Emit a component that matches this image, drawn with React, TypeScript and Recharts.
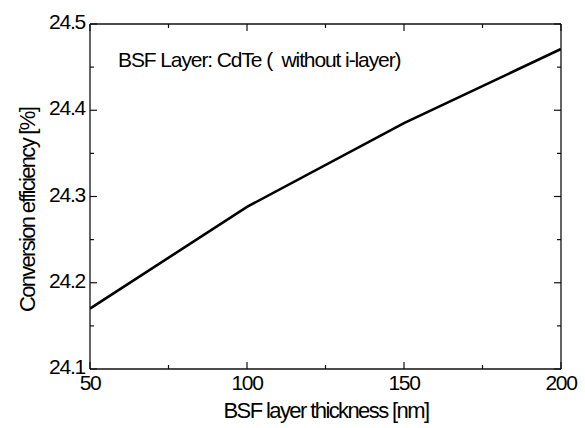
import { LineChart, Line, XAxis, YAxis, Customized } from 'recharts';

const thickness = [50, 100, 150, 200];
const efficiency = [24.17, 24.288, 24.385, 24.471];

const xTicks = [50, 75, 100, 125, 150, 175, 200];
const xLabels = [50, 100, 150, 200];
const yTicks = [24.1, 24.15, 24.2, 24.25, 24.3, 24.35, 24.4, 24.45, 24.5];
const yLabels = [24.1, 24.2, 24.3, 24.4, 24.5];

const data = thickness.map((t, i) => ({ thickness: t, efficiency: efficiency[i] }));

const font = '"Liberation Sans", Arial, sans-serif';
const axisLine = { stroke: '#111', strokeWidth: 1.3 };
const isMajor = (list: number[], v: number) => list.some(m => Math.abs(m - v) < 1e-6);

function BottomTick({ x, y, payload }: any) {
  const major = isMajor(xLabels, payload.value);
  return (
    <g>
      <line x1={x} y1={y} x2={x} y2={y - (major ? 7 : 4)} stroke="#111" strokeWidth={1.2} />
      {major && (
        <text x={x} y={y + 21} textAnchor="middle" fill="#000" fontSize={21} letterSpacing={-1.4} fontFamily={font}>
          {payload.value}
        </text>
      )}
    </g>
  );
}

function TopTick({ x, y, payload }: any) {
  const major = isMajor(xLabels, payload.value);
  return <line x1={x} y1={y} x2={x} y2={y + (major ? 7 : 4)} stroke="#111" strokeWidth={1.2} />;
}

function LeftTick({ x, y, payload }: any) {
  const major = isMajor(yLabels, payload.value);
  return (
    <g>
      <line x1={x} y1={y} x2={x + (major ? 7 : 4)} y2={y} stroke="#111" strokeWidth={1.2} />
      {major && (
        <text x={x - 5} y={y + 5} textAnchor="end" fill="#000" fontSize={21} letterSpacing={-1.2} fontFamily={font}>
          {payload.value.toFixed(1)}
        </text>
      )}
    </g>
  );
}

function RightTick({ x, y, payload }: any) {
  const major = isMajor(yLabels, payload.value);
  return <line x1={x} y1={y} x2={x - (major ? 7 : 4)} y2={y} stroke="#111" strokeWidth={1.2} />;
}

function Titles() {
  return (
    <g fontFamily={font} fill="#000">
      <text x={118} y={67} fontSize={21} letterSpacing={-1.1} xmlSpace="preserve" style={{ whiteSpace: 'pre' }}>
        {'BSF Layer: CdTe (  without i-layer)'}
      </text>
      <text x={326} y={418} fontSize={22} letterSpacing={-1.6} textAnchor="middle">
        BSF layer thickness [nm]
      </text>
      <text x={35} y={210} fontSize={22} letterSpacing={-1.7} textAnchor="middle" transform="rotate(-90, 35, 210)">
        Conversion efficiency [%]
      </text>
    </g>
  );
}

export default function App() {
  return (
    <div style={{ position: 'absolute', left: 0, top: 0, width: 585, height: 428, background: '#fff' }}>
      <LineChart width={585} height={428} data={data} margin={{ top: 23, right: 23, bottom: 58, left: 89 }}>
        <XAxis
          xAxisId="b"
          dataKey="thickness"
          type="number"
          orientation="bottom"
          domain={[50, 200]}
          ticks={xTicks}
          interval={0}
          height={1}
          tickSize={0}
          tickMargin={0}
          axisLine={axisLine}
          tick={<BottomTick />}
          allowDataOverflow
        />
        <XAxis
          xAxisId="t"
          dataKey="thickness"
          type="number"
          orientation="top"
          domain={[50, 200]}
          ticks={xTicks}
          interval={0}
          height={1}
          tickSize={0}
          tickMargin={0}
          axisLine={axisLine}
          tick={<TopTick />}
          allowDataOverflow
        />
        <YAxis
          yAxisId="l"
          type="number"
          orientation="left"
          domain={[24.1, 24.5]}
          ticks={yTicks}
          interval={0}
          width={1}
          tickSize={0}
          tickMargin={0}
          axisLine={axisLine}
          tick={<LeftTick />}
          allowDataOverflow
        />
        <YAxis
          yAxisId="r"
          type="number"
          orientation="right"
          domain={[24.1, 24.5]}
          ticks={yTicks}
          interval={0}
          width={1}
          tickSize={0}
          tickMargin={0}
          axisLine={axisLine}
          tick={<RightTick />}
          allowDataOverflow
        />
        <Line
          xAxisId="b"
          yAxisId="l"
          dataKey="efficiency"
          stroke="#000"
          strokeWidth={2.6}
          dot={false}
          type="linear"
          isAnimationActive={false}
        />
        <Customized component={Titles} />
      </LineChart>
    </div>
  );
}
